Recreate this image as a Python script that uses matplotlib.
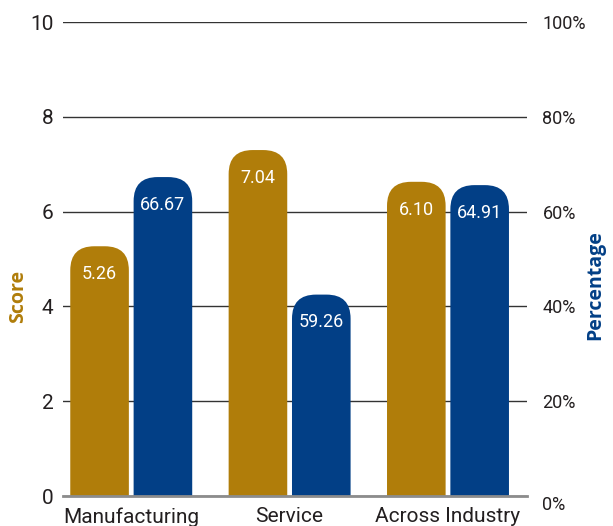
import matplotlib
matplotlib.use("Agg")
import matplotlib.pyplot as plt
from matplotlib.patches import FancyBboxPatch
import numpy as np

categories = ["Manufacturing", "Service", "Across Industry"]
# bar heights as drawn in the reference
score_heights = [5.27, 7.30, 6.63]
pct_heights = [67.3, 42.5, 65.6]
# numbers printed on the bars
score_labels = ["5.26", "7.04", "6.10"]
pct_labels = ["66.67", "59.26", "64.91"]
score_ticks = [0, 2, 4, 6, 8, 10]
pct_ticks = [0, 20, 40, 60, 80, 100]
pct_tick_labels = ["0%", "20%", "40%", "60%", "80%", "100%"]

GOLD = "#B07D0A"
BLUE = "#023F86"
TEXT = "#231F20"

plt.rcParams["font.family"] = ["Roboto", "DejaVu Sans"]

fig = plt.figure(figsize=(6.13, 5.26), dpi=100)
ax = fig.add_axes([0.103, 0.057, 0.757, 0.901])
ax2 = ax.twinx()
x = np.arange(len(categories))
ax.set_xlim(-0.43, 2.5)
ax.set_ylim(0, 10)
ax2.set_ylim(0, 100)


# draw bars with rounded tops (radius given in pixels)
def rounded_bars(axis, xs, heights, labels, color, r_px=24):
    bars = axis.bar(xs, heights, width=0.37, color=color)
    p0 = axis.transData.transform((0, 0))
    p1 = axis.transData.transform((1, 1))
    rx = r_px / (p1[0] - p0[0])
    ry = r_px / (p1[1] - p0[1])
    for b, lab in zip(bars, labels):
        b.set_visible(False)
        patch = FancyBboxPatch(
            (b.get_x(), -ry), b.get_width(), b.get_height() + ry,
            boxstyle=f"round,pad=0,rounding_size={rx}",
            mutation_aspect=ry / rx,
            facecolor=color, edgecolor="none", zorder=2,
        )
        axis.add_patch(patch)
        axis.annotate(lab, (b.get_x() + b.get_width() / 2, b.get_height()),
                      xytext=(0, -20), textcoords="offset points",
                      ha="center", va="center", color="white", fontsize=13,
                      zorder=3)
    return bars


rounded_bars(ax, x - 0.2, score_heights, score_labels, GOLD)
rounded_bars(ax2, x + 0.2, pct_heights, pct_labels, BLUE)

# axes styling
ax.set_yticks(score_ticks)
ax.grid(axis="y", color="#333333", lw=1)
ax.set_axisbelow(True)
ax.set_xticks(x, categories)
ax.tick_params(length=0, labelsize=15, colors=TEXT, pad=7)
ax.tick_params(axis="x", pad=8)
for s in ax.spines.values():
    s.set_visible(False)

ax2.set_yticks(pct_ticks, pct_tick_labels)
ax2.tick_params(length=0, labelsize=13, colors=TEXT, pad=11)
for name, s in ax2.spines.items():
    s.set_visible(name == "bottom")
ax2.spines["bottom"].set_color("#8c8c8c")
ax2.spines["bottom"].set_linewidth(2)
ax2.get_yticklabels()[0].set_va("top")

fig.text(18 / 613, 1 - 296 / 526, "Score", rotation=90, color=GOLD,
         fontsize=14, fontweight="bold", ha="center", va="center",
         family="Open Sans")
fig.text(595 / 613, 1 - 285 / 526, "Percentage", rotation=90, color=BLUE,
         fontsize=14, fontweight="bold", ha="center", va="center",
         family="Open Sans")

fig.savefig("out.png", dpi=100)
